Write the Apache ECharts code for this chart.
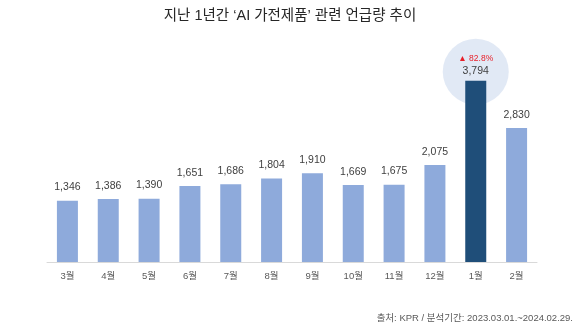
<!DOCTYPE html>
<html>
<head>
<meta charset="utf-8">
<script src="https://cdn.jsdelivr.net/npm/echarts@6/dist/echarts.min.js"></script>
<style>
  html, body { margin: 0; padding: 0; background: #ffffff; }
  #chart { width: 580px; height: 329px; }
</style>
</head>
<body>
<div id="chart"></div>
<script>
// Monthly mention counts, Mar 2023 – Feb 2024
var months = ['3월', '4월', '5월', '6월', '7월', '8월', '9월', '10월', '11월', '12월', '1월', '2월'];
var mentions = [1346, 1386, 1390, 1651, 1686, 1804, 1910, 1669, 1675, 2075, 3794, 2830];
var peakIndex = 10;

var FONT = "'Liberation Sans', 'Noto Sans CJK KR', sans-serif";
var LIGHT = '#8eaadb';
var DARK = '#1f4e79';

// month-over-month growth at the peak month
var growth = ((mentions[peakIndex] / mentions[peakIndex - 1] - 1) * 100).toFixed(1);

function fmt(v) {
  return v.toLocaleString('en-US');
}

var barData = mentions.map(function (v, i) {
  if (i === peakIndex) {
    return {
      value: v,
      itemStyle: { color: DARK },
      label: {
        distance: 3,
        formatter: '{up|▲ ' + growth + '%}\n{val|' + fmt(v) + '}',
        rich: {
          up: { color: '#e8202a', fontSize: 8.5, fontFamily: FONT, lineHeight: 13 },
          val: { color: '#404040', fontSize: 10.5, fontFamily: FONT, lineHeight: 13 }
        }
      }
    };
  }
  return v;
});

var chart = echarts.init(document.getElementById('chart'), null, { renderer: 'canvas' });

chart.setOption({
  backgroundColor: '#ffffff',
  animation: false,
  title: {
    text: "지난 1년간 ‘AI 가전제품’ 관련 언급량 추이",
    left: 'center',
    top: 4,
    textStyle: { color: '#262626', fontSize: 14.5, fontWeight: 'normal', fontFamily: FONT }
  },
  graphic: [{
    type: 'text',
    right: 7,
    top: 314,
    style: {
      text: '출처: KPR / 분석기간: 2023.03.01.~2024.02.29.',
      fill: '#595959',
      font: '9.5px ' + FONT
    }
  }],
  grid: { left: 47, right: 43, top: 51, bottom: 67 },
  xAxis: {
    type: 'category',
    data: months,
    boundaryGap: true,
    axisLine: { lineStyle: { color: '#d9d9d9', width: 1 } },
    axisTick: { show: false },
    axisLabel: { color: '#595959', fontSize: 9.5, fontFamily: FONT, margin: 10 }
  },
  yAxis: {
    type: 'value',
    min: 100,
    max: 4400,
    show: false,
    splitLine: { show: false }
  },
  series: [
    {
      // highlight disc behind the peak bar
      type: 'scatter',
      data: [[months[peakIndex], mentions[peakIndex]]],
      symbol: 'circle',
      symbolSize: 66,
      symbolOffset: [0, -9],
      itemStyle: { color: '#dae3f3' },
      silent: true,
      z: 1
    },
    {
      type: 'bar',
      data: barData,
      barWidth: 21,
      itemStyle: { color: LIGHT },
      z: 2,
      label: {
        show: true,
        position: 'top',
        distance: 8,
        color: '#404040',
        fontSize: 10.5,
        fontFamily: FONT,
        formatter: function (p) { return fmt(p.value); }
      }
    }
  ]
});
</script>
</body>
</html>
